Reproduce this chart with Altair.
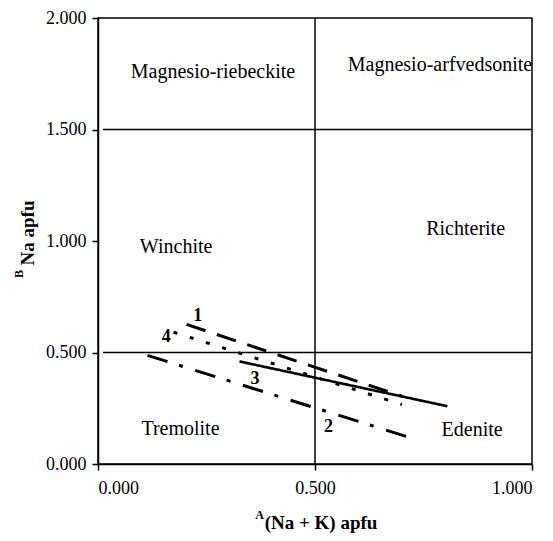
import altair as alt
import pandas as pd

# Data lines (series label, start x/y, end x/y)
series_ids = ["1", "2", "3", "4"]
x_start = [0.204, 0.114, 0.326, 0.174]
y_start = [0.626, 0.487, 0.460, 0.591]
x_end = [0.700, 0.733, 0.805, 0.700]
y_end = [0.304, 0.110, 0.259, 0.267]

# Series number labels
num_text = ["1", "4", "3", "2"]
num_x = [0.230, 0.157, 0.362, 0.531]
num_y = [0.663, 0.569, 0.383, 0.167]

# Region labels
region_text = ["Magnesio-riebeckite", "Magnesio-arfvedsonite", "Winchite",
               "Richterite", "Tremolite", "Edenite"]
region_x = [0.265, 0.788, 0.180, 0.847, 0.190, 0.862]
region_y = [1.760, 1.787, 0.971, 1.052, 0.155, 0.152]

# Boundary lines
hline_y = [0.5, 1.5]
vline_x = [0.5]

x_ticks = [0.0, 0.5, 1.0]
y_ticks = [0.0, 0.5, 1.0, 1.5, 2.0]

FONT = "Liberation Serif"
W, H = 434, 446

xs = alt.Scale(domain=[0, 1], nice=False, zero=False)
ys = alt.Scale(domain=[0, 2], nice=False, zero=False)

xaxis = alt.Axis(values=x_ticks, format=".3f", title=None, grid=False,
                 labelFont=FONT, labelFontSize=18, labelColor="black",
                 domainColor="black", domainWidth=1.5, tickColor="black",
                 tickWidth=1.5, tickSize=6, labelPadding=9)
yaxis = alt.Axis(values=y_ticks, format=".3f", title=None, grid=False,
                 labelFont=FONT, labelFontSize=18, labelColor="black",
                 domainColor="black", domainWidth=1.5, tickColor="black",
                 tickWidth=1.5, tickSize=6, labelPadding=6)

base_df = pd.DataFrame({"x": [0.0, 1.0], "y": [0.0, 2.0]})
axes = alt.Chart(base_df).mark_point(opacity=0).encode(
    x=alt.X("x:Q", scale=xs, axis=xaxis),
    y=alt.Y("y:Q", scale=ys, axis=yaxis),
)

h_df = pd.DataFrame({"y": hline_y})
hrules = alt.Chart(h_df).mark_rule(color="black", strokeWidth=1.5).encode(
    y=alt.Y("y:Q", scale=ys), x=alt.value(5), x2=alt.value(W))
v_df = pd.DataFrame({"x": vline_x})
vrules = alt.Chart(v_df).mark_rule(color="black", strokeWidth=1.5).encode(
    x=alt.X("x:Q", scale=xs), y=alt.value(0), y2=alt.value(H))

dashes = {"1": [20, 12], "2": [21, 12, 4, 13], "3": [1, 0], "4": [4, 13]}
widths = {"1": 3, "2": 3, "3": 2.6, "4": 3}
line_layers = []
for i, s in enumerate(series_ids):
    df = pd.DataFrame({"x": [x_start[i], x_end[i]], "y": [y_start[i], y_end[i]]})
    mark = alt.Chart(df).mark_line(color="black", strokeWidth=widths[s],
                                   strokeDash=dashes[s], strokeCap="butt")
    line_layers.append(mark.encode(x=alt.X("x:Q", scale=xs),
                                   y=alt.Y("y:Q", scale=ys)))

num_df = pd.DataFrame({"t": num_text, "x": num_x, "y": num_y})
nums = alt.Chart(num_df).mark_text(font=FONT, fontSize=18, fontWeight="bold",
                                   color="black").encode(
    x=alt.X("x:Q", scale=xs), y=alt.Y("y:Q", scale=ys), text="t:N")

reg_df = pd.DataFrame({"t": region_text, "x": region_x, "y": region_y})
regs = alt.Chart(reg_df).mark_text(font=FONT, fontSize=20,
                                   color="black").encode(
    x=alt.X("x:Q", scale=xs), y=alt.Y("y:Q", scale=ys), text="t:N")

one = pd.DataFrame({"a": [0]})
ytitle = alt.Chart(one).mark_text(font=FONT, fontSize=19, fontWeight="bold",
                                  angle=270, align="center", baseline="middle",
                                  color="black", text="Na apfu").encode(
    x=alt.value(-70), y=alt.value(215))
ysup = alt.Chart(one).mark_text(font=FONT, fontSize=12, fontWeight="bold",
                                angle=270, align="center", baseline="middle",
                                color="black", text="B").encode(
    x=alt.value(-79), y=alt.value(256))
xtitle = alt.Chart(one).mark_text(font=FONT, fontSize=19, fontWeight="bold",
                                  align="center", baseline="middle",
                                  color="black", text="(Na + K) apfu").encode(
    x=alt.value(223), y=alt.value(505))
xsup = alt.Chart(one).mark_text(font=FONT, fontSize=12, fontWeight="bold",
                                align="right", baseline="middle",
                                color="black", text="A").encode(
    x=alt.value(166), y=alt.value(497))

chart = alt.layer(axes, hrules, vrules, *line_layers, nums, regs,
                  ytitle, ysup, xtitle, xsup).properties(
    width=W, height=H,
    autosize=alt.AutoSizeParams(type="none"),
    padding={"left": 98, "top": 18, "right": 21, "bottom": 77},
    background="white",
).configure_view(stroke="black", strokeWidth=1.5)

chart.save("out.html", embed_options={"renderer": "svg", "actions": False})
